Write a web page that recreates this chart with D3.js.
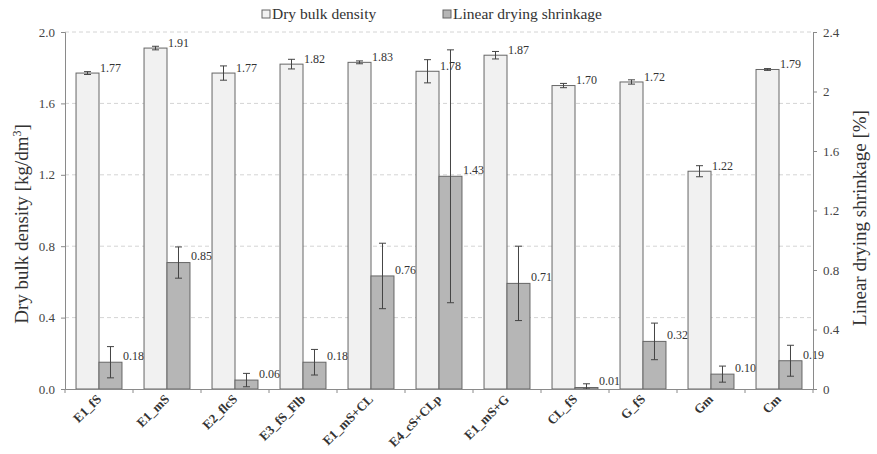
<!DOCTYPE html>
<html>
<head>
<meta charset="utf-8">
<script src="https://cdn.jsdelivr.net/npm/d3@7"></script>
<style>
  body { margin: 0; background: #fff; }
  svg { font-family: "Liberation Serif", "Times New Roman", "DejaVu Serif", serif; }
</style>
</head>
<body>
<svg id="chart"></svg>
<script>
// Dry bulk density vs linear drying shrinkage, per sample

const categories = ["E1_fS", "E1_mS", "E2_flcS", "E3_fS_Flb", "E1_mS+CL", "E4_cS+CLp",
  "E1_mS+G", "CL_fS", "G_fS", "Gm", "Cm"];
const density = [1.77, 1.91, 1.77, 1.82, 1.83, 1.78, 1.87, 1.70, 1.72, 1.22, 1.79];
const densityErr = [0.008, 0.01, 0.04, 0.027, 0.008, 0.065, 0.021, 0.012, 0.012, 0.031, 0.005];
const shrinkage = [0.18, 0.85, 0.06, 0.18, 0.76, 1.43, 0.71, 0.01, 0.32, 0.10, 0.19];
const shrinkageErr = [0.105, 0.105, 0.045, 0.086, 0.22, 0.85, 0.25, 0.025, 0.123, 0.054, 0.104];
const leftTicks = [0, 0.4, 0.8, 1.2, 1.6, 2.0];
const rightTicks = [0, 0.4, 0.8, 1.2, 1.6, 2, 2.4];

(function () {
  const W = 877, H = 454;
  const M = { top: 32, right: 64, bottom: 65, left: 65 };
  const innerW = W - M.left - M.right;
  const innerH = H - M.top - M.bottom;
  const FONT = "Liberation Serif, Times New Roman, DejaVu Serif, serif";

  const LIGHT = "#f1f1f1";
  const DARK = "#b6b6b6";
  const EDGE = "#666";
  const AXIS = "#8a8a8a";
  const INK = "#333";

  const svg = d3.select("#chart").attr("width", W).attr("height", H)
    .attr("font-family", FONT);
  const g = svg.append("g").attr("transform", `translate(${M.left},${M.top})`);

  const x0 = d3.scaleBand().domain(categories).range([0, innerW]).padding(0);
  const x1 = d3.scaleBand().domain(["d", "s"]).range([0, x0.bandwidth()])
    .paddingInner(0).paddingOuter(0.48);
  const yL = d3.scaleLinear().domain([0, 2.0]).range([innerH, 0]);
  const yR = d3.scaleLinear().domain([0, 2.4]).range([innerH, 0]);

  // dashed gridlines
  g.append("g").selectAll("line").data(leftTicks.filter(d => d > 0)).join("line")
    .attr("x1", 0).attr("x2", innerW)
    .attr("y1", d => yL(d)).attr("y2", d => yL(d))
    .attr("stroke", "#d4d4d4").attr("stroke-dasharray", "4 3");

  const rows = categories.map((c, i) => ({
    c, d: density[i], de: densityErr[i], s: shrinkage[i], se: shrinkageErr[i]
  }));

  const grp = g.append("g").selectAll("g").data(rows).join("g")
    .attr("transform", d => `translate(${x0(d.c)},0)`);

  // bars
  grp.append("rect")
    .attr("x", x1("d")).attr("width", x1.bandwidth())
    .attr("y", d => yL(d.d)).attr("height", d => innerH - yL(d.d))
    .attr("fill", LIGHT).attr("stroke", EDGE).attr("stroke-width", 1);
  grp.append("rect")
    .attr("x", x1("s")).attr("width", x1.bandwidth())
    .attr("y", d => yR(d.s)).attr("height", d => innerH - yR(d.s))
    .attr("fill", DARK).attr("stroke", EDGE).attr("stroke-width", 1);

  // error bars
  function errBar(sel, cx, yv, ye, sc) {
    const eb = sel.append("g").attr("stroke", "#444").attr("stroke-width", 1);
    eb.append("line").attr("x1", cx).attr("x2", cx)
      .attr("y1", d => sc(yv(d) + ye(d))).attr("y2", d => sc(Math.max(0, yv(d) - ye(d))));
    eb.append("line").attr("x1", cx - 3.5).attr("x2", cx + 3.5)
      .attr("y1", d => sc(yv(d) + ye(d))).attr("y2", d => sc(yv(d) + ye(d)));
    eb.append("line").attr("x1", cx - 3.5).attr("x2", cx + 3.5)
      .attr("y1", d => sc(Math.max(0, yv(d) - ye(d)))).attr("y2", d => sc(Math.max(0, yv(d) - ye(d))));
  }
  errBar(grp, x1("d") + x1.bandwidth() / 2, d => d.d, d => d.de, yL);
  errBar(grp, x1("s") + x1.bandwidth() / 2, d => d.s, d => d.se, yR);

  // value labels
  grp.append("text")
    .attr("x", x1("d") + x1.bandwidth() + 1).attr("y", d => yL(d.d) - 5)
    .attr("dy", "0.32em").attr("font-size", 12).attr("fill", INK)
    .text(d => d.d.toFixed(2));
  grp.append("text")
    .attr("x", x1("s") + x1.bandwidth() + 1).attr("y", d => yR(d.s) - 6)
    .attr("dy", "0.32em").attr("font-size", 12).attr("fill", INK)
    .text(d => d.s.toFixed(2));

  // axes
  const axL = g.append("g").call(d3.axisLeft(yL).tickValues(leftTicks)
    .tickFormat(d3.format(".1f")).tickSize(4).tickPadding(6));
  const axR = g.append("g").attr("transform", `translate(${innerW},0)`)
    .call(d3.axisRight(yR).tickValues(rightTicks)
      .tickFormat(d => String(+d.toFixed(1))).tickSize(4).tickPadding(6));
  const axB = g.append("g").attr("transform", `translate(0,${innerH})`)
    .call(d3.axisBottom(x0).tickSize(0).tickFormat(""));
  // bottom ticks at group boundaries
  axB.selectAll(".bt").data(d3.range(categories.length + 1)).join("line")
    .attr("x1", i => i * x0.step()).attr("x2", i => i * x0.step())
    .attr("y1", 0).attr("y2", 4).attr("stroke", AXIS);

  [axL, axR, axB].forEach(a => {
    a.attr("font-family", FONT);
    a.selectAll(".domain").attr("stroke", AXIS);
    a.selectAll(".tick line").attr("stroke", AXIS);
    a.selectAll(".tick text").attr("font-size", 13).attr("fill", "#444");
  });

  // rotated category labels
  g.append("g").selectAll("text").data(categories).join("text")
    .attr("transform", d => `translate(${x0(d) + x0.bandwidth() / 2 + 3},${innerH + 11}) rotate(-45)`)
    .attr("text-anchor", "end").attr("font-size", 13).attr("font-weight", 700)
    .attr("fill", INK)
    .text(d => d);

  // axis titles
  svg.append("text")
    .attr("transform", `translate(28,224) rotate(-90)`)
    .attr("text-anchor", "middle").attr("font-size", 19).attr("fill", INK)
    .html("Dry bulk density [kg/dm<tspan baseline-shift='super' font-size='12'>3</tspan>]");
  svg.append("text")
    .attr("transform", `translate(866,218) rotate(-90)`)
    .attr("text-anchor", "middle").attr("font-size", 19).attr("fill", INK)
    .text("Linear drying shrinkage [%]");

  // legend
  const legend = [
    { label: "Dry bulk density", fill: LIGHT, x: 262 },
    { label: "Linear drying shrinkage", fill: DARK, x: 443 }
  ];
  const lg = svg.append("g").selectAll("g").data(legend).join("g")
    .attr("transform", d => `translate(${d.x},10)`);
  lg.append("rect").attr("width", 8).attr("height", 8)
    .attr("fill", d => d.fill).attr("stroke", EDGE);
  lg.append("text").attr("x", 10).attr("y", 4).attr("dy", "0.35em")
    .attr("font-size", 15.5).attr("fill", INK).text(d => d.label);
})();
</script>
</body>
</html>
